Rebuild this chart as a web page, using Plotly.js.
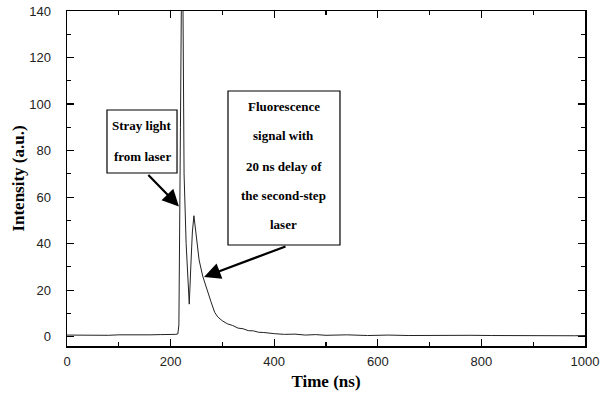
<!DOCTYPE html>
<html>
<head>
<meta charset="utf-8">
<script src="https://cdn.plot.ly/plotly-3.0.1.min.js"></script>
<style>html,body{margin:0;padding:0;background:#fff;}#chart{width:602px;height:393px;}</style>
</head>
<body>
<div id="chart"></div>
<script>
// Time axis (ns) and intensity (a.u.)
const timeNs = [0, 20, 40, 60, 80, 100, 120, 140, 160, 180, 200, 210, 214, 216, 219, 221, 224, 226, 230, 236, 239, 242, 245, 250, 255, 262, 270, 278, 285, 291, 300, 310, 320, 330, 340, 350, 360, 370, 380, 390, 400, 420, 440, 460, 480, 500, 540, 580, 620, 660, 700, 740, 780, 820, 860, 900, 940, 980, 1000];
const intensity = [0.7, 0.6, 0.8, 0.7, 0.6, 0.8, 0.7, 0.7, 0.8, 0.9, 0.8, 1.0, 1.2, 5, 90, 150, 140, 70, 40, 14, 30, 45, 52, 42, 33, 26, 20, 15, 10.5, 8.5, 6.8, 5.5, 4.8, 3.7, 3.4, 2.6, 2.5, 1.9, 1.8, 1.4, 1.3, 1.0, 1.1, 0.7, 0.9, 0.6, 0.8, 0.5, 0.7, 0.5, 0.6, 0.4, 0.6, 0.5, 0.4, 0.6, 0.5, 0.4, 0.5];
const xTickVals = [0, 200, 400, 600, 800, 1000];
const yTickVals = [0, 20, 40, 60, 80, 100, 120, 140];
const strayLines = ["Stray light", "from laser"];
const fluoLines = ["Fluorescence", "signal with", "20 ns delay of", "the second-step", "laser"];

const serifBold = {family: "Liberation Serif, Times New Roman, serif", size: 13, color: "#000"};
const annotations = [];
const strayY = [0.6597, 0.5642];
strayLines.forEach((t, i) => annotations.push({xref: "paper", yref: "paper", x: 0.1449, y: strayY[i], xanchor: "center", yanchor: "middle", text: "<b>" + t + "</b>", showarrow: false, font: serifBold}));
const fluoY = [0.7164, 0.6269, 0.5373, 0.4507, 0.3612];
fluoLines.forEach((t, i) => annotations.push({xref: "paper", yref: "paper", x: 0.4189, y: fluoY[i], xanchor: "center", yanchor: "middle", text: "<b>" + t + "</b>", showarrow: false, font: serifBold}));
// arrows
annotations.push({x: 216, y: 56, xref: "x", yref: "y", text: "", showarrow: true, ax: -32, ay: -33, arrowhead: 2, arrowsize: 1.5, arrowwidth: 2.2, arrowcolor: "#000", standoff: 0});
annotations.push({x: 264.5, y: 25.7, xref: "x", yref: "y", text: "", showarrow: true, ax: 83, ay: -31, arrowhead: 2, arrowsize: 1.5, arrowwidth: 2.2, arrowcolor: "#000", standoff: 0});

const shapes = [
  {type: "rect", xref: "paper", yref: "paper", x0: 0.0772, x1: 0.2124, y0: 0.5164, y1: 0.7045, line: {color: "#000", width: 1.2}, fillcolor: "#fff", layer: "above"},
  {type: "rect", xref: "paper", yref: "paper", x0: 0.3108, x1: 0.5270, y0: 0.3015, y1: 0.7612, line: {color: "#000", width: 1.2}, fillcolor: "#fff", layer: "above"}
];

const trace = {x: timeNs, y: intensity, type: "scatter", mode: "lines", line: {color: "#222", width: 1}, hoverinfo: "skip"};

const tickFont = {family: "Liberation Sans, Arial, sans-serif", size: 13, color: "#222"};
const layout = {
  width: 602, height: 393,
  margin: {l: 67, r: 17, t: 11, b: 47},
  paper_bgcolor: "#fff", plot_bgcolor: "#fff",
  showlegend: false,
  xaxis: {
    range: [0, 1000], tickvals: xTickVals, ticks: "inside", ticklen: 7, tickwidth: 1.2, tickcolor: "#000",
    minor: {dtick: 100, ticks: "inside", ticklen: 4, tickcolor: "#000"},
    showgrid: false, zeroline: false, showline: true, linecolor: "#000", linewidth: 1.5, mirror: "ticks",
    tickfont: tickFont, ticklabelstandoff: 3,
    title: {text: "<b>Time (ns)</b>", font: {family: "Liberation Serif, Times New Roman, serif", size: 17, color: "#000"}, standoff: 7}
  },
  yaxis: {
    range: [-4, 140], tickvals: yTickVals, ticks: "inside", ticklen: 7, tickwidth: 1.2, tickcolor: "#000",
    minor: {dtick: 10, ticks: "inside", ticklen: 4, tickcolor: "#000"},
    showgrid: false, zeroline: false, showline: true, linecolor: "#000", linewidth: 1.5, mirror: "ticks",
    tickfont: tickFont, ticklabelstandoff: 12,
    title: {text: "<b>Intensity (a.u.)</b>", font: {family: "Liberation Serif, Times New Roman, serif", size: 17, color: "#000"}, standoff: 0}
  },
  annotations: annotations,
  shapes: shapes
};
Plotly.newPlot("chart", [trace], layout, {displayModeBar: false, staticPlot: true});
</script>
</body>
</html>
